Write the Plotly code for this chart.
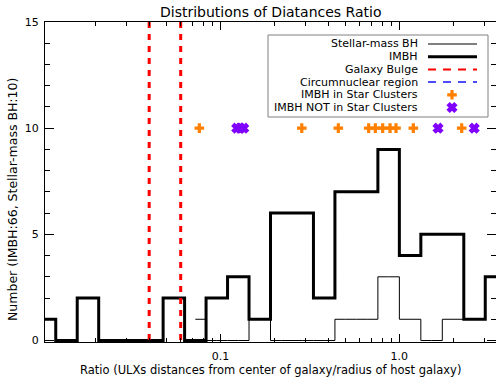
import numpy as np
import plotly.graph_objects as go

# ---------------- data ----------------
# histogram bin centres in log10(ratio), bin width 0.12 dex
imbh_centers_log = [-1.98, -1.86, -1.74, -1.62, -1.50, -1.38, -1.26, -1.14, -1.02, -0.90, -0.78,
                    -0.66, -0.54, -0.42, -0.30, -0.18, -0.06, 0.06, 0.18, 0.30, 0.42, 0.54]
imbh_counts = [1, 0, 2, 0, 0, 0, 2, 0, 2, 3, 1, 6, 6, 2, 7, 7, 9, 4, 5, 5, 1, 3]

smbh_centers_log = [-1.14, -1.02, -0.90, -0.78, -0.66, -0.54, -0.42, -0.30, -0.18, -0.06,
                    0.06, 0.18, 0.30, 0.42]
smbh_counts = [1, 0, 0, 1, 0, 0, 0, 1, 1, 3, 1, 0, 1, 1]

bulge_ratios = [0.04, 0.06]

cluster_ratios = [0.0763, 0.285, 0.456, 0.674, 0.734, 0.807, 0.887, 0.958, 1.197, 2.23]
noncluster_ratios = [0.1234, 0.1291, 0.135, 1.645, 2.62]
marker_level = 10

x_major = [0.1, 1.0]
x_major_text = ["0.1", "1.0"]
x_minor = [0.02, 0.03, 0.04, 0.05, 0.06, 0.07, 0.08, 0.09,
           0.2, 0.3, 0.4, 0.5, 0.6, 0.7, 0.8, 0.9, 2, 3]
y_major = [0, 5, 10, 15]

legend_labels = ["Stellar-mass BH", "IMBH", "Galaxy Bulge", "Circumnuclear region",
                 "IMBH in Star Clusters", "IMBH NOT in Star Clusters"]

title_text = "Distributions of Diatances Ratio"
xlabel = "Ratio (ULXs distances from center of galaxy/radius of host galaxy)"
ylabel = "Number (IMBH:66, Stellar-mass BH:10)"

# ---------------- layout geometry ----------------
W, H = 496, 381
L, R, T, B = 45, 0, 22, 39
PW, PH = W - L - R, H - T - B


def px(xp):
    return (xp - L) / PW


def py(yp):
    return (H - B - yp) / PH


FONT = "DejaVu Sans"
ORANGE = "#ff8000"
PURPLE = "#8000ff"

fig = go.Figure()

fig.add_trace(go.Scatter(x=10 ** np.array(smbh_centers_log), y=smbh_counts, mode="lines",
                         line=dict(shape="hvh", color="black", width=1), hoverinfo="skip"))
fig.add_trace(go.Scatter(x=10 ** np.array(imbh_centers_log), y=imbh_counts, mode="lines",
                         line=dict(shape="hvh", color="black", width=3), hoverinfo="skip"))
for r in bulge_ratios:
    fig.add_trace(go.Scatter(x=[r, r], y=[15, 0], mode="lines",
                             line=dict(color="#ff0000", width=3, dash="6px,6px"), hoverinfo="skip"))
fig.add_trace(go.Scatter(x=cluster_ratios, y=[marker_level] * len(cluster_ratios), mode="markers",
                         marker=dict(symbol="cross", size=8, color=ORANGE, line=dict(width=0)),
                         cliponaxis=False))
fig.add_trace(go.Scatter(x=noncluster_ratios, y=[marker_level] * len(noncluster_ratios), mode="markers",
                         marker=dict(symbol="x", size=8, color=PURPLE,
                                     line=dict(width=1.5, color=PURPLE)),
                         cliponaxis=False))

# dummy trace for the right-hand tick axis
fig.add_trace(go.Scatter(x=[0.1], y=[0], yaxis="y2", mode="markers",
                         marker=dict(opacity=0), hoverinfo="skip"))

# ---------------- custom legend (symbols to the right of text) ----------------
row0, dy = 44, 12.7
rows = [row0 + i * dy for i in range(6)]
lx0, lx1, lxm = px(428), px(477), px(452)
leg_styles = [dict(color="black", width=1), dict(color="black", width=3),
              dict(color="#ff0000", width=2, dash="8px,7px"),
              dict(color="#4d4dff", width=2, dash="8px,7px")]
for i, st in enumerate(leg_styles):
    fig.add_trace(go.Scatter(x=[lx0, lx1], y=[py(rows[i])] * 2, xaxis="x3", yaxis="y3",
                             mode="lines", line=st, hoverinfo="skip"))
fig.add_trace(go.Scatter(x=[lxm], y=[py(rows[4])], xaxis="x3", yaxis="y3", mode="markers",
                         marker=dict(symbol="cross", size=8, color=ORANGE, line=dict(width=0))))
fig.add_trace(go.Scatter(x=[lxm], y=[py(rows[5])], xaxis="x3", yaxis="y3", mode="markers",
                         marker=dict(symbol="x", size=8, color=PURPLE,
                                     line=dict(width=1.5, color=PURPLE))))

annotations = []
for i, lab in enumerate(legend_labels):
    annotations.append(dict(text=lab, x=px(420), y=py(rows[i]), xref="paper", yref="paper",
                            xanchor="right", yanchor="middle", showarrow=False,
                            font=dict(family=FONT, size=11, color="black")))
annotations.append(dict(text=title_text, x=0.5 * (px(45) + px(496.7)), y=py(12), xref="paper",
                        yref="paper", xanchor="center", yanchor="middle", showarrow=False,
                        font=dict(family=FONT, size=14, color="black")))
annotations.append(dict(text=xlabel, x=px(270), y=py(370), xref="paper", yref="paper",
                        xanchor="center", yanchor="middle", showarrow=False,
                        font=dict(family=FONT, size=11.5, color="black")))
annotations.append(dict(text=ylabel, x=px(12), y=py(200), xref="paper", yref="paper",
                        xanchor="center", yanchor="middle", showarrow=False, textangle=-90,
                        font=dict(family=FONT, size=12.5, color="black")))

shapes = [dict(type="rect", xref="paper", yref="paper", x0=px(268), x1=px(488), y0=py(117), y1=py(35),
               line=dict(color="#808080", width=1), fillcolor="rgba(0,0,0,0)", layer="below")]

fig.update_layout(
    width=W, height=H, margin=dict(l=L, r=R, t=T, b=B, pad=0),
    paper_bgcolor="white", plot_bgcolor="white", showlegend=False,
    font=dict(family=FONT, size=11, color="black"),
    annotations=annotations, shapes=shapes,
    xaxis=dict(type="log", range=[-1.98, 0.54], showline=True, linecolor="black", linewidth=1,
               mirror="ticks", ticks="inside", ticklen=8, tickwidth=1, tickcolor="black",
               tickmode="array", tickvals=x_major, ticktext=x_major_text,
               minor=dict(ticks="inside", ticklen=4, tickwidth=1, tickcolor="black",
                          tickmode="array", tickvals=x_minor, showgrid=False),
               showgrid=False, zeroline=False, tickfont=dict(size=11), ticklabelstandoff=4),
    yaxis=dict(range=[-0.07, 15], showline=True, linecolor="black", linewidth=1, mirror=False,
               ticks="inside", ticklen=9, tickwidth=1, tickcolor="black",
               tickmode="array", tickvals=y_major,
               minor=dict(ticks="inside", ticklen=5, tickwidth=1, tickcolor="black", dtick=1,
                          showgrid=False),
               showgrid=False, zeroline=False, tickfont=dict(size=11), ticklabelstandoff=3),
    yaxis2=dict(range=[-0.07, 15], overlaying="y", side="right", anchor="x", showline=False,
                ticks="inside", ticklen=9, tickwidth=1, tickcolor="black",
                tickmode="array", tickvals=y_major, showticklabels=False,
                minor=dict(ticks="inside", ticklen=5, tickwidth=1, tickcolor="black", dtick=1,
                           showgrid=False),
                showgrid=False, zeroline=False),
    xaxis3=dict(range=[0, 1], overlaying="x", anchor="y3", visible=False),
    yaxis3=dict(range=[0, 1], overlaying="y", anchor="x3", visible=False),
)

fig.write_html("out.html")
